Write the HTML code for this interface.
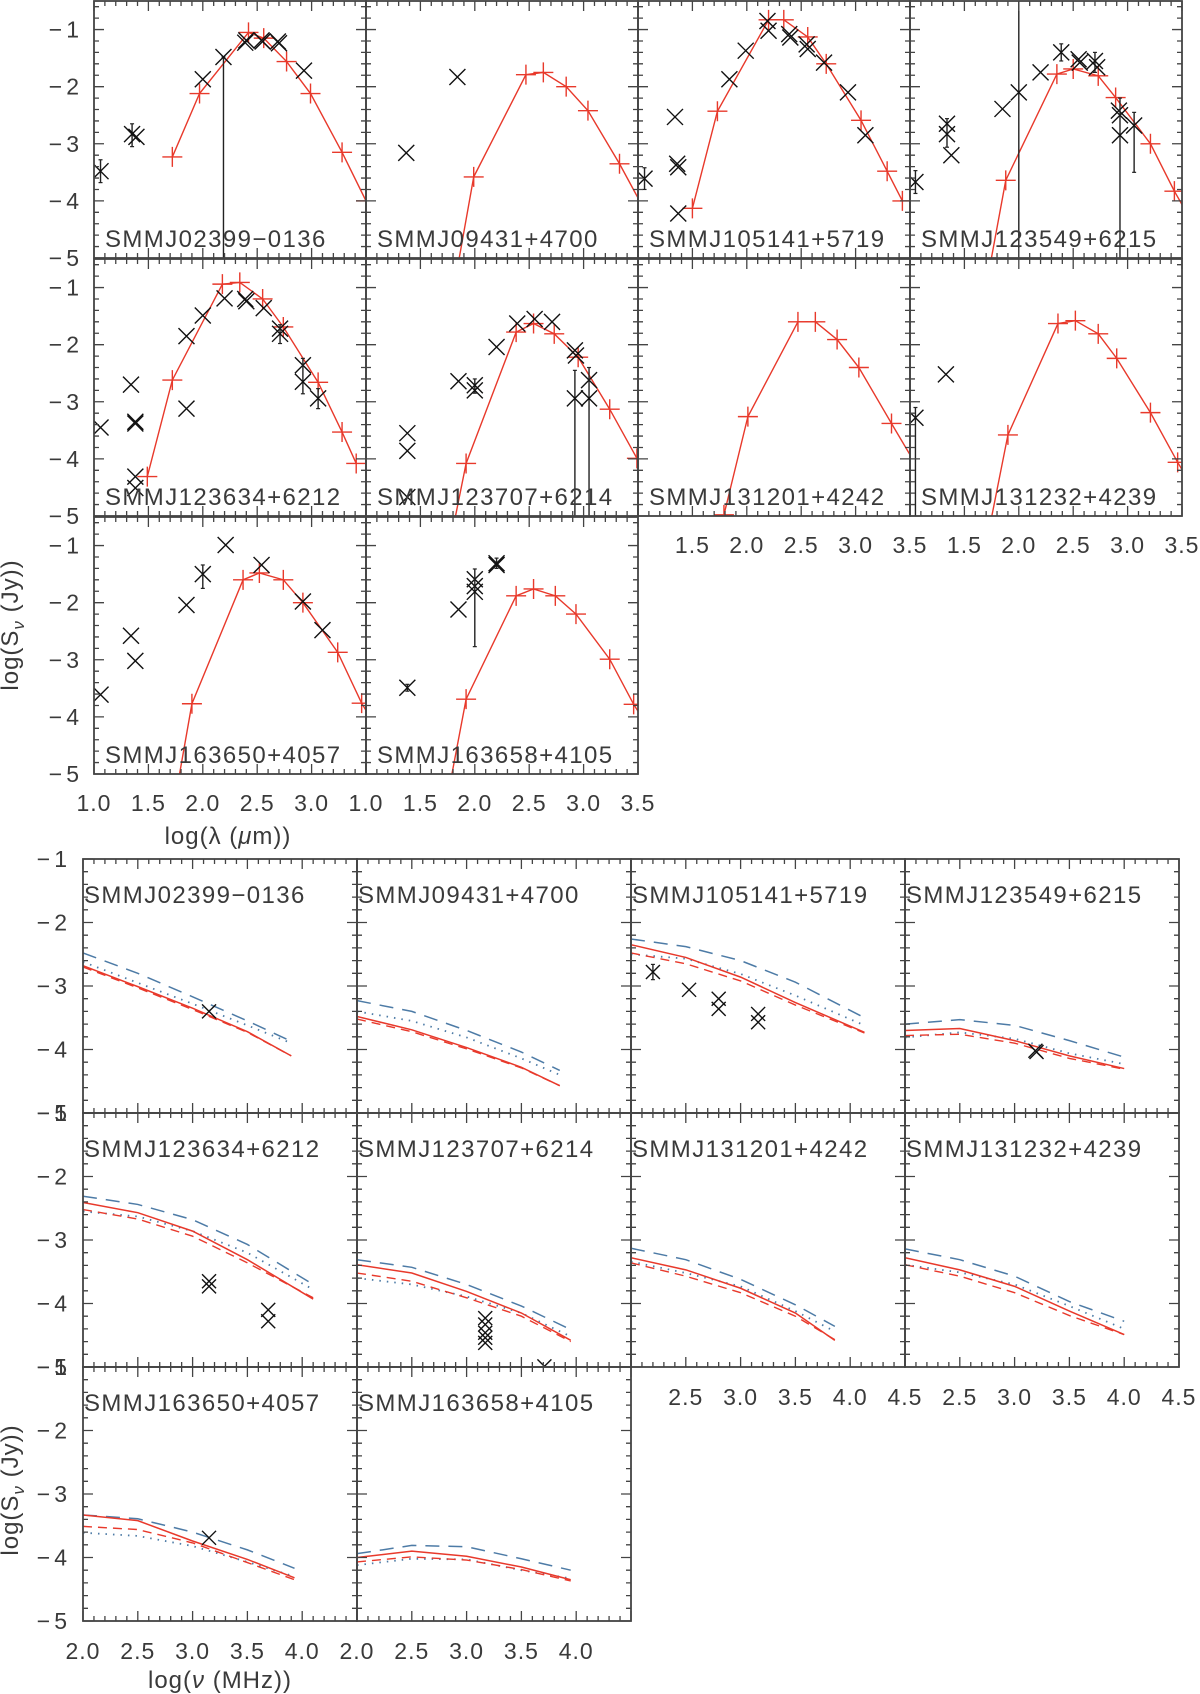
<!DOCTYPE html>
<html><head><meta charset="utf-8"><style>
html,body{margin:0;padding:0;background:#fff;}
svg{display:block;font-family:"Liberation Sans",sans-serif;}
</style></head><body>
<svg id="fig" width="1200" height="1694" viewBox="0 0 1200 1694" xmlns="http://www.w3.org/2000/svg"></svg>
<script>
// ---------- data: top grid (SED vs wavelength) ----------
const sourceNames = ["SMMJ02399\u22120136","SMMJ09431+4700","SMMJ105141+5719","SMMJ123549+6215","SMMJ123634+6212","SMMJ123707+6214","SMMJ131201+4242","SMMJ131232+4239","SMMJ163650+4057","SMMJ163658+4105"];
const sedModelX = [
 [1.72,1.97,2.42,2.56,2.77,2.99,3.28,3.5],
 [1.81,1.99,2.47,2.63,2.84,3.04,3.33,3.6],
 [1.50,1.73,2.20,2.34,2.56,2.73,3.05,3.29,3.43],
 [1.70,1.88,2.35,2.50,2.73,2.89,3.21,3.43,3.6],
 [1.49,1.72,2.18,2.34,2.55,2.74,3.06,3.28,3.41],
 [1.77,1.92,2.38,2.54,2.73,2.95,3.24,3.49],
 [1.73,1.79,2.01,2.47,2.63,2.83,3.03,3.33,3.6],
 [1.70,1.90,2.36,2.52,2.73,2.90,3.21,3.46,3.6],
 [1.74,1.90,2.37,2.52,2.74,2.92,3.24,3.46,3.6],
 [1.74,1.92,2.38,2.54,2.74,2.93,3.24,3.46,3.6]];
const sedModelY = [
 [-3.23,-2.12,-1.05,-1.15,-1.56,-2.12,-3.15,-4.0],
 [-5.5,-3.58,-1.79,-1.75,-2.0,-2.42,-3.35,-4.3],
 [-4.13,-2.43,-0.83,-0.83,-1.13,-1.6,-2.59,-3.48,-4.0],
 [-5.5,-3.64,-1.78,-1.69,-1.81,-2.19,-3.0,-3.83,-4.4],
 [-4.31,-2.62,-0.94,-0.91,-1.2,-1.69,-2.66,-3.53,-4.08],
 [-5.5,-4.08,-1.78,-1.63,-1.81,-2.22,-3.13,-3.99],
 [-5.5,-4.98,-3.26,-1.6,-1.6,-1.91,-2.4,-3.38,-4.25],
 [-5.5,-3.58,-1.63,-1.58,-1.81,-2.24,-3.19,-4.06,-4.5],
 [-5.5,-3.77,-1.6,-1.48,-1.6,-2.0,-2.87,-3.76,-4.2],
 [-5.5,-3.69,-1.88,-1.76,-1.88,-2.2,-2.99,-3.78,-4.2]];
// observed points: [x, y, errLow, errHigh] (err null when none)
const sedObs = [
 [[1.06,-3.48,-3.68,-3.28],[1.35,-2.83,-3.05,-2.65],[1.39,-2.88],[2.0,-1.87],[2.19,-1.48,-5.5,-1.48],[2.39,-1.23],[2.40,-1.19],[2.54,-1.19],[2.55,-1.21],[2.69,-1.21],[2.70,-1.24],[2.93,-1.72]],
 [[1.37,-3.16],[1.84,-1.83]],
 [[1.06,-3.61,-3.8,-3.42],[1.34,-2.53],[1.36,-3.35],[1.37,-3.41],[1.37,-4.22],[1.84,-1.87],[1.99,-1.37],[2.19,-0.85],[2.2,-1.02],[2.39,-1.08],[2.40,-1.14],[2.55,-1.26],[2.56,-1.34],[2.71,-1.58],[2.93,-2.1],[3.09,-2.85]],
 [[1.05,-3.67,-3.87,-3.47],[1.34,-2.65,-3.06,-2.56],[1.34,-2.83],[1.38,-3.2],[1.85,-2.39],[2.0,-2.1,-5.5,-0.4],[2.2,-1.75],[2.39,-1.4,-1.55,-1.25],[2.55,-1.52],[2.56,-1.58],[2.70,-1.55,-1.75,-1.4],[2.72,-1.66],[2.92,-2.42],[2.93,-2.5],[2.93,-2.85,-5.5,-2.2],[3.06,-2.68,-3.5,-2.45]],
 [[1.06,-3.45],[1.34,-2.7],[1.38,-3.35],[1.38,-3.38],[1.38,-4.31],[1.38,-4.51],[1.85,-1.85],[1.85,-3.12],[2.0,-1.49],[2.2,-1.19],[2.39,-1.2],[2.4,-1.24],[2.56,-1.36],[2.71,-1.72],[2.71,-1.81,-1.98,-1.65],[2.92,-2.36],[2.92,-2.65,-2.86,-2.24],[3.06,-2.94,-3.12,-2.77]],
 [[1.38,-3.55],[1.38,-3.86],[1.38,-4.67],[1.85,-2.64],[2.0,-2.71,-2.85,-2.6],[2.0,-2.8],[2.2,-2.04],[2.39,-1.63],[2.55,-1.55],[2.71,-1.6],[2.92,-2.1],[2.93,-2.19],[2.92,-2.94,-5.5,-2.45],[3.05,-2.62],[3.05,-2.94,-5.5,-2.4]],
 [],
 [[1.05,-3.28,-5.5,-3.1],[1.33,-2.52]],
 [[1.06,-3.61],[1.34,-2.58],[1.38,-3.02],[1.85,-2.04],[2.0,-1.5,-1.75,-1.34],[2.21,-0.99],[2.54,-1.34],[2.92,-1.98],[3.10,-2.48]],
 [[1.38,-3.49,-3.55,-3.43],[1.85,-2.12],[2.0,-1.59],[2.0,-1.71],[2.0,-1.81,-2.77,-1.41],[2.2,-1.31,-1.4,-1.22],[2.2,-1.34]]];

// ---------- data: bottom grid (radio) ----------
const radioXStart = [2.0,2.0,2.0,2.0,2.0,2.0,2.0,2.0,2.0,2.0];
const radioXEnd = [3.9,3.85,4.13,4.0,4.1,3.95,3.86,4.0,3.93,3.95];
const radioKnots = [2.0,2.5,3.0,3.5];
const radioRedSolid = [
 [-2.68,-3.01,-3.35,-3.72,-4.1],[-3.48,-3.69,-3.97,-4.28,-4.57],[-2.35,-2.55,-2.86,-3.26,-3.73],[-3.70,-3.67,-3.86,-4.1,-4.3],
 [-2.41,-2.57,-2.86,-3.31,-3.93],[-3.39,-3.52,-3.81,-4.15,-4.58],[-3.28,-3.47,-3.76,-4.15,-4.58],[-3.28,-3.47,-3.73,-4.12,-4.49],
 [-3.33,-3.42,-3.74,-4.03,-4.32],[-4.0,-3.9,-3.98,-4.15,-4.35]];
const radioRedDashed = [
 [-2.70,-3.03,-3.37,-3.73,-4.1],[-3.52,-3.72,-3.99,-4.29,-4.57],[-2.48,-2.65,-2.92,-3.3,-3.74],[-3.78,-3.76,-3.9,-4.14,-4.31],
 [-2.52,-2.67,-2.94,-3.36,-3.91],[-3.52,-3.65,-3.91,-4.2,-4.6],[-3.36,-3.57,-3.83,-4.2,-4.57],[-3.39,-3.57,-3.83,-4.19,-4.49],
 [-3.51,-3.56,-3.77,-4.08,-4.35],[-4.07,-3.99,-4.04,-4.19,-4.37]];
const radioBlueDashed = [
 [-2.48,-2.80,-3.17,-3.55,-3.87],[-3.23,-3.40,-3.70,-4.04,-4.33],[-2.26,-2.38,-2.6,-2.94,-3.5],[-3.6,-3.53,-3.62,-3.86,-4.12],
 [-2.31,-2.44,-2.68,-3.07,-3.7],[-3.31,-3.43,-3.7,-4.04,-4.41],[-3.13,-3.31,-3.62,-4.02,-4.36],[-3.14,-3.31,-3.57,-3.97,-4.28],
 [-3.33,-3.39,-3.6,-3.88,-4.17],[-3.94,-3.81,-3.83,-4.02,-4.2]];
const radioBlueDotted = [
 [-2.62,-2.95,-3.28,-3.62,-3.9],[-3.40,-3.55,-3.81,-4.14,-4.4],[-2.5,-2.57,-2.81,-3.15,-3.62],[-3.81,-3.73,-3.83,-4.06,-4.23],
 [-2.55,-2.63,-2.86,-3.2,-3.78],[-3.6,-3.7,-3.89,-4.15,-4.52],[-3.34,-3.52,-3.73,-4.12,-4.44],[-3.39,-3.51,-3.7,-4.04,-4.4],
 [-3.61,-3.66,-3.82,-4.07,-4.3],[-4.12,-4.02,-4.03,-4.2,-4.33]];
const radioObs = [
 [[3.15,-3.4]],[],
 [[2.2,-2.78,-2.9,-2.66],[2.53,-3.06],[2.8,-3.2],[2.8,-3.36],[3.16,-3.44],[3.16,-3.57]],
 [[3.19,-4.02],[3.2,-4.04]],
 [[3.15,-3.65],[3.15,-3.73],[3.69,-4.1],[3.69,-4.28]],
 [[3.17,-4.23],[3.17,-4.33],[3.17,-4.46],[3.17,-4.54],[3.17,-4.62],[3.71,-4.99]],
 [],[],[[3.15,-3.69]],[]];

const yTickLabels = ["\u22121","\u22122","\u22123","\u22124","\u22125"];
const yTickValues = [-1,-2,-3,-4,-5];
const topXTicksFull = [1.0,1.5,2.0,2.5,3.0,3.5];
const botXTicksFull = [2.0,2.5,3.0,3.5,4.0,4.5];

// ---------- drawing ----------
const NS = "http://www.w3.org/2000/svg";
const svg = document.getElementById("fig");
const RED = "#e8392b", BLUE = "#4d7ba6", AX = "#444", TXT = "#3a3a3a";
function mk(tag, attrs, parent){ const e=document.createElementNS(NS,tag); for(const k in attrs) e.setAttribute(k,attrs[k]); (parent||svg).appendChild(e); return e; }
function txt(s,x,y,anchor,size,parent,ls){ const t=mk("text",{x:x,y:y,"text-anchor":anchor,"font-size":size,fill:TXT,"letter-spacing":ls||0},parent); t.textContent=s; return t; }

function makePanel(px,py,w,h,xmin,xmax,ymin,ymax,id,name,nameTop){
  const g = mk("g",{});
  
  
  const sx = v => px + (v-xmin)/(xmax-xmin)*w;
  const sy = v => py + (ymax-v)/(ymax-ymin)*h;
  const cp = mk("clipPath",{id:"cp"+id},g);
  mk("rect",{x:px,y:py,width:w,height:h},cp);
  const clip = mk("g",{"clip-path":"url(#cp"+id+")"},g);
  let d="";
  for(let v=Math.ceil(xmin*10-1e-6); v<=xmax*10+1e-6; v++){
    const x=sx(v/10); const maj = v%5===0; const L = maj?10:5;
    d+=`M${x},${py+h}v${-L}M${x},${py}v${L}`;
  }
  for(let v=Math.ceil(ymin*5-1e-6); v<=ymax*5+1e-6; v++){
    const y=sy(v/5); const maj = v%5===0; const L = maj?10:5;
    d+=`M${px},${y}h${L}M${px+w},${y}h${-L}`;
  }
  const tk = mk("path",{d:d,stroke:AX,"stroke-width":1.3,fill:"none"},g);
  
  
  const fr = mk("rect",{x:px,y:py,width:w,height:h,fill:"none",stroke:AX,"stroke-width":1.8},g);
  
  
  const nt = txt(name, nameTop? px+1 : px+11, nameTop? py+44 : py+h-11, "start", 24, g, 1.4);
  
  
  return {g,clip,sx,sy};
}
function drawX(parent,x,y,r,sw){ const p=mk("path",{d:`M${x-r},${y-r}L${x+r},${y+r}M${x-r},${y+r}L${x+r},${y-r}`,stroke:"#111","stroke-width":sw||1.4,fill:"none"},parent);
    }
function drawObs(P,list,r){
  list.forEach(o=>{
    if(o.length>3){ const e=mk("line",{x1:P.sx(o[0]),x2:P.sx(o[0]),y1:P.sy(o[2]),y2:P.sy(o[3]),stroke:"#222","stroke-width":1.4},P.clip);
       
      [o[2],o[3]].forEach(v=>{ if(v>-5) mk("line",{x1:P.sx(o[0])-2,x2:P.sx(o[0])+2,y1:P.sy(v),y2:P.sy(v),stroke:"#222","stroke-width":1.2},P.clip); });
    }
    drawX(P.clip,P.sx(o[0]),P.sy(o[1]),r);
  });
}

// top grid
for(let i=0;i<10;i++){
  const c=i%4, r=Math.floor(i/4);
  const px=94+c*272, py=1+r*258;
  const P = makePanel(px,py,272,257,1.0,3.5,-5,-0.5,"t"+i,sourceNames[i],false);
  const xs=sedModelX[i], ys=sedModelY[i];
  const pts = xs.map((x,k)=>P.sx(x)+","+P.sy(ys[k])).join(" ");
  const ln = mk("polyline",{points:pts,fill:"none",stroke:RED,"stroke-width":1.4},P.clip);
   
  xs.forEach((x,k)=>{ const X=P.sx(x), Y=P.sy(ys[k]);
    const m=mk("path",{d:`M${X-10},${Y}h20M${X},${Y-10}v20`,stroke:RED,"stroke-width":1.4,fill:"none"},P.clip);
      });
  drawObs(P,sedObs[i],8);
  if(c===0){ yTickValues.forEach((v,k)=>{ const t=txt(yTickLabels[k],83,P.sy(v)+8,"end",23,null,4);
      }); }
  let xl=null;
  if(i===8) xl=[1.0,1.5,2.0,2.5,3.0];
  if(i===9) xl=topXTicksFull;
  if(i===6||i===7) xl=[1.5,2.0,2.5,3.0,3.5];
  if(xl) xl.forEach(v=>{ const t=txt(v.toFixed(1),P.sx(v),py+257+37,"middle",23,null,1);
      });
}
// bottom grid
for(let i=0;i<10;i++){
  const c=i%4, r=Math.floor(i/4);
  const px=83+c*274, py=859+r*254;
  const P = makePanel(px,py,274,254,2.0,4.5,-5,-1,"b"+i,sourceNames[i],true);
  const xk = radioKnots.concat([radioXEnd[i]]);
  const series=[[radioBlueDashed[i],BLUE,"14,9",1.5,"blue-dashed-model"],[radioBlueDotted[i],BLUE,"1.5,6",1.8,"blue-dotted-model"],[radioRedDashed[i],RED,"9,6",1.4,"red-dashed-model"],[radioRedSolid[i],RED,"",1.5,"red-solid-model"]];
  series.forEach(s=>{
    const pts = xk.map((x,k)=>P.sx(x)+","+P.sy(s[0][k])).join(" ");
    const a={points:pts,fill:"none",stroke:s[1],"stroke-width":s[3]}; if(s[2]) a["stroke-dasharray"]=s[2];
    const l=mk("polyline",a,P.clip);
     
  });
  drawObs(P,radioObs[i],7);
  if(c===0){ yTickValues.forEach((v,k)=>{ const t=txt(yTickLabels[k],71,P.sy(v)+8,"end",23,null,4);
      }); }
  let xl=null;
  if(i===8||i===9) xl=[2.0,2.5,3.0,3.5,4.0];
  if(i===6||i===7) xl=[2.5,3.0,3.5,4.0,4.5];
  if(xl) xl.forEach(v=>{ const t=txt(v.toFixed(1),P.sx(v),py+254+38,"middle",23,null,1);
      });
}
// axis titles
const xt1 = txt("",228,844,"middle",24,null,1); xt1.innerHTML='log(λ  (<tspan font-style="italic">μ</tspan>m))';
 
const xt2 = txt("",220,1688,"middle",24,null,1); xt2.innerHTML='log(<tspan font-style="italic">ν</tspan>  (MHz))';
 
[[625,"y-axis-title-top"],[1490,"y-axis-title-bottom"]].forEach(a=>{
  const t=mk("text",{x:0,y:0,"text-anchor":"middle","font-size":24,fill:TXT,"letter-spacing":1,transform:`translate(18,${a[0]}) rotate(-90)`});
  t.innerHTML='log(S<tspan font-size="17" dy="6" font-style="italic">ν</tspan><tspan dy="-6">  (Jy))</tspan>';
   
});
</script>
</body></html>
